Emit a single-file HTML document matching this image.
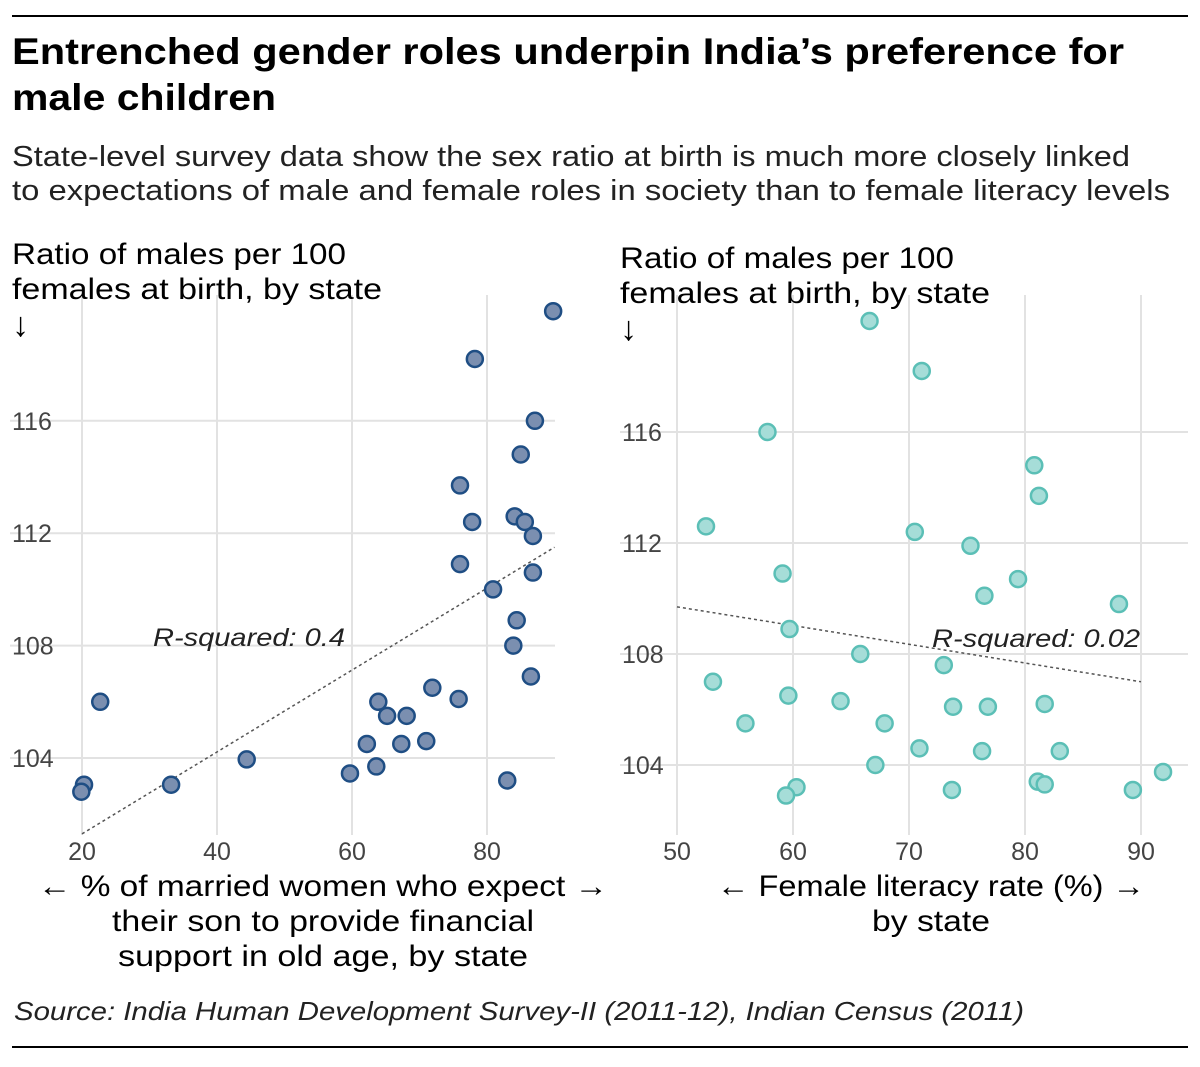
<!DOCTYPE html>
<html><head><meta charset="utf-8"><style>
body{margin:0;background:#fff;width:1200px;height:1062px;overflow:hidden;font-family:"Liberation Sans",sans-serif}
svg text{font-family:"Liberation Sans",sans-serif}
</style></head><body>
<svg id="c" width="1200" height="1062">
<line x1="12" y1="16" x2="1188" y2="16" stroke="#000" stroke-width="2"/>
<text x="12" y="64" font-size="37" font-weight="bold" textLength="1112" lengthAdjust="spacingAndGlyphs">Entrenched gender roles underpin India’s preference for</text>
<text x="12" y="110" font-size="37" font-weight="bold" textLength="264" lengthAdjust="spacingAndGlyphs">male children</text>
<text x="12" y="166" font-size="29" fill="#222" textLength="1118" lengthAdjust="spacingAndGlyphs">State-level survey data show the sex ratio at birth is much more closely linked</text>
<text x="12" y="200" font-size="29" fill="#222" textLength="1158" lengthAdjust="spacingAndGlyphs">to expectations of male and female roles in society than to female literacy levels</text>
<g id="left"></g>
<g id="right"></g>
<text x="14" y="1020" font-size="26" font-style="italic" fill="#222" textLength="1010" lengthAdjust="spacingAndGlyphs">Source: India Human Development Survey-II (2011-12), Indian Census (2011)</text>
<line x1="12" y1="1047" x2="1188" y2="1047" stroke="#000" stroke-width="2"/>
</svg>
<script>
const leftX=[89.8,78.2,87.1,85.0,76.0,77.8,84.1,85.6,86.8,76.0,86.8,80.9,84.4,83.9,86.5,22.7,71.9,75.8,63.9,65.2,68.1,62.2,67.3,71.0,44.4,59.7,63.6,83.0,33.2,20.3,19.9];
const leftY=[119.9,118.2,116.0,114.8,113.7,112.4,112.6,112.4,111.9,110.9,110.6,110.0,108.9,108.0,106.9,106.0,106.5,106.1,106.0,105.5,105.5,104.5,104.5,104.6,103.95,103.45,103.7,103.2,103.05,103.05,102.8];
const rightX=[66.6,71.1,57.8,80.8,81.2,52.5,70.5,75.3,59.1,79.4,76.5,88.1,59.7,65.8,73.0,53.1,59.6,64.1,81.7,73.8,76.8,55.9,67.9,70.9,76.3,83.0,67.1,91.9,81.1,81.7,73.7,89.3,60.3,59.4];
const rightY=[120.0,118.2,116.0,114.8,113.7,112.6,112.4,111.9,110.9,110.7,110.1,109.8,108.9,108.0,107.6,107.0,106.5,106.3,106.2,106.1,106.1,105.5,105.5,104.6,104.5,104.5,104.0,103.75,103.4,103.3,103.1,103.1,103.2,102.9];
const leftXTicks=[20,40,60,80];
const rightXTicks=[50,60,70,80,90];
const yTicks=[104,108,112,116];
const leftTrend=[[20,101.3],[90,111.5]];
const rightTrend=[[50,109.7],[90,107.0]];
const NS="http://www.w3.org/2000/svg";
function mk(p,t,a){const e=document.createElementNS(NS,t);for(const k in a)e.setAttribute(k,a[k]);p.appendChild(e);return e;}
function panel(g,cfg){
 const sx=v=>cfg.x0+(v-cfg.xv0)*cfg.kx, sy=v=>cfg.y0-(v-cfg.yv0)*cfg.ky;
 yTicks.forEach(t=>{
  const l=mk(g,'line',{x1:cfg.gl,x2:cfg.gr,y1:sy(t),y2:sy(t),stroke:'#e2e2e2','stroke-width':2});
  
  
  const tx=mk(g,'text',{x:cfg.gl+2,y:sy(t)+9,'font-size':25,fill:'#444'});tx.textContent=t;
  
  
 });
 cfg.xt.forEach(t=>{
  const l=mk(g,'line',{x1:sx(t),x2:sx(t),y1:295,y2:835,stroke:'#e2e2e2','stroke-width':2});
  
  
  const tx=mk(g,'text',{x:sx(t),y:860,'font-size':25,fill:'#444','text-anchor':'middle'});tx.textContent=t;
  
  
 });
 const tr=mk(g,'line',{x1:sx(cfg.trend[0][0]),y1:sy(cfg.trend[0][1]),x2:sx(cfg.trend[1][0]),y2:sy(cfg.trend[1][1]),stroke:'#555','stroke-width':1.5,'stroke-dasharray':'3,3'});
 
 
 cfg.xs.forEach((v,i)=>{
  const c=mk(g,'circle',{cx:sx(v),cy:sy(cfg.ys[i]),r:8,fill:cfg.fill,stroke:cfg.stroke,'stroke-width':2.5});
  
  
 });
}
const L=document.getElementById('left'),R=document.getElementById('right');
panel(L,{x0:82,xv0:20,kx:6.75,y0:758,yv0:104,ky:28.1,gl:10,gr:555,xt:leftXTicks,xs:leftX,ys:leftY,trend:leftTrend,fill:'#7b8fb0',stroke:'#1f4e84'});
panel(R,{x0:677,xv0:50,kx:11.6,y0:765,yv0:104,ky:27.75,gl:620,gr:1188,xt:rightXTicks,xs:rightX,ys:rightY,trend:rightTrend,fill:'#a6ddd8',stroke:'#5bbfb6'});
function txt(g,x,y,s,str,extra,name,len){const a=Object.assign({x:x,y:y,'font-size':s},extra||{});if(len){a.textLength=len;a.lengthAdjust='spacingAndGlyphs';}const t=mk(g,'text',a);t.textContent=str;
 
 }
txt(L,12,264,30,'Ratio of males per 100',{},'y-axis-title',334);
txt(L,12,299,30,'females at birth, by state',{},'y-axis-title-line2',370);
txt(L,12,336,34,'↓',{},'y-axis-arrow');
txt(R,620,268,30,'Ratio of males per 100',{},'y-axis-title',334);
txt(R,620,303,30,'females at birth, by state',{},'y-axis-title-line2',370);
txt(R,620,340,34,'↓',{},'y-axis-arrow');
txt(L,153,646,25,'R-squared: 0.4',{'font-style':'italic',fill:'#222'},'r-squared-label',192);
txt(R,932,647,25,'R-squared: 0.02',{'font-style':'italic',fill:'#222'},'r-squared-label',208);
txt(L,323,896,30,'← % of married women who expect →',{'text-anchor':'middle'},'x-axis-title',570);
txt(L,323,931,30,'their son to provide financial',{'text-anchor':'middle'},'x-axis-title-line2',422);
txt(L,323,966,30,'support in old age, by state',{'text-anchor':'middle'},'x-axis-title-line3',410);
txt(R,931,896,30,'← Female literacy rate (%) →',{'text-anchor':'middle'},'x-axis-title',428);
txt(R,931,931,30,'by state',{'text-anchor':'middle'},'x-axis-title-line2',118);
</script>
</body></html>
